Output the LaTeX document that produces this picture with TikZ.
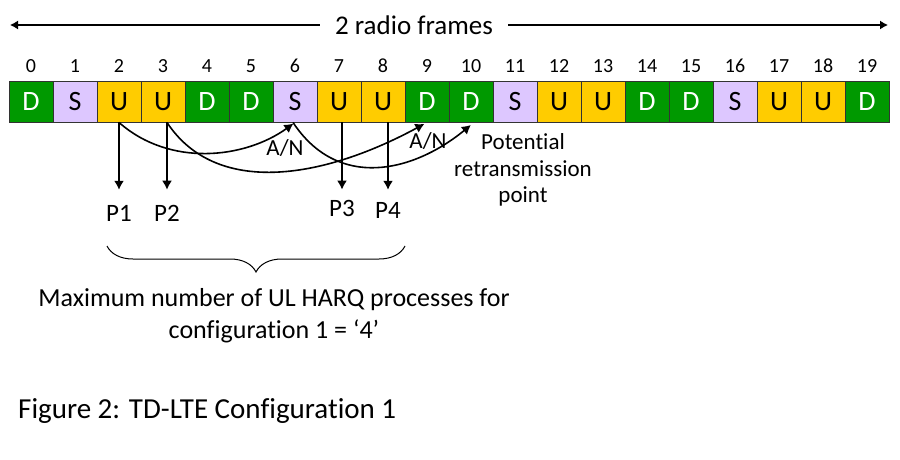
\documentclass[tikz,border=0pt]{standalone}
\usepackage{fontspec}
\setmainfont{Carlito}[Ligatures=NoCommon]
\usepackage{tikz}
\usetikzlibrary{arrows.meta,decorations.pathreplacing}
\definecolor{sfGreen}{RGB}{0,153,0}
\definecolor{sfLilac}{RGB}{221,199,255}
\definecolor{sfYellow}{RGB}{255,204,0}
\tikzset{
  sf/cell/.style={draw=black!80, line width=0.9pt, minimum width=44pt, minimum height=41pt, inner sep=0pt, font=\fontsize{28}{30}\selectfont},
  sf/D/.style={sf/cell, fill=sfGreen, text=white},
  sf/S/.style={sf/cell, fill=sfLilac},
  sf/U/.style={sf/cell, fill=sfYellow},
  sf/num/.style={font=\fontsize{20}{22}\selectfont, inner sep=0pt},
  sf/plabel/.style={font=\fontsize{25}{28}\selectfont, inner sep=0pt},
  sf/an/.style={font=\fontsize{23}{26}\selectfont, inner sep=0pt},
  sf/note/.style={font=\fontsize{23}{26.5}\selectfont, inner sep=0pt, align=center},
  sf/text/.style={font=\fontsize{26}{32}\selectfont, inner sep=0pt, align=center},
  arr/.style={-{Latex[length=9pt,width=10pt]}, line width=1.6pt},
  arrthin/.style={-{Latex[length=8pt,width=9pt]}, line width=1.2pt},
  bracket/.style={decorate, decoration={brace, mirror, amplitude=26pt}, line width=1pt}
}

\begin{document}
\begin{tikzpicture}[x=1pt, y=-1pt]
  \useasboundingbox[fill=white] (0,0) rectangle (900,460);

  % two radio frames
  \node[sf/text, font=\fontsize{27}{30}\selectfont, inner xsep=15pt] (frames) at (414,25) {2 radio frames};
  \coordinate (frL) at (10,25);
  \coordinate (frR) at (888,25);
  \draw[arrthin] (frames) -- (frL);
  \draw[arrthin] (frames) -- (frR);

  % subframes
  \foreach \t [count=\i from 0] in {D,S,U,U,D,D,S,U,U,D,D,S,U,U,D,D,S,U,U,D}{
    \node[sf/\t] (c\i) at (31+44*\i,101.5) {\t};
    \node[sf/num] (n\i) at (31+44*\i,66) {\i};
  }

  % UL processes
  \node[sf/plabel] (p1) at (119,213) {P1};
  \node[sf/plabel] (p2) at (167,213) {P2};
  \node[sf/plabel] (p3) at (342,208) {P3};
  \node[sf/plabel] (p4) at (388,210) {P4};
  \draw[arr, shorten >=15pt] (p1 |- c2.south) -- (p1.north);
  \draw[arr, shorten >=15pt] (p2 |- c3.south) -- (p2.north);
  \draw[arr, shorten >=10pt] (p3 |- c7.south) -- (p3.north);
  \draw[arr, shorten >=12pt] (p4 |- c8.south) -- (p4.north);

  % A/N and retransmission
  \draw[arr, shorten >=2pt] (p1 |- c2.south) .. controls +(51,45) and +(-50,36) .. (c6.south);
  \draw[arr, shorten >=3pt] (p2 |- c3.south) .. controls +(48,73) and +(-107,58) .. (c9.south);
  \draw[arr, shorten >=4pt] ([xshift=-2pt]c6.south) .. controls +(45,68) and +(-61,50) .. ([xshift=3pt]c10.south);
  \node[sf/an] (an1) at (285,148) {A/N};
  \node[sf/an] (an2) at (428,141) {A/N};
  \node[sf/note] (retx) at (523,170) {Potential\\retransmission\\point};

  % maximum number of processes
  \coordinate (brL) at (107,246);
  \coordinate (brR) at (405,246);
  \draw[bracket] (brL) -- (brR);
  \node[sf/text] (maxharq) at (274,316) {Maximum number of UL HARQ processes for\\configuration 1 = ‘4’};

  \node[sf/text, font=\fontsize{29}{32}\selectfont, anchor=west] (caption) at (18,411) {Figure 2: TD-LTE Configuration 1};
\end{tikzpicture}
\end{document}
